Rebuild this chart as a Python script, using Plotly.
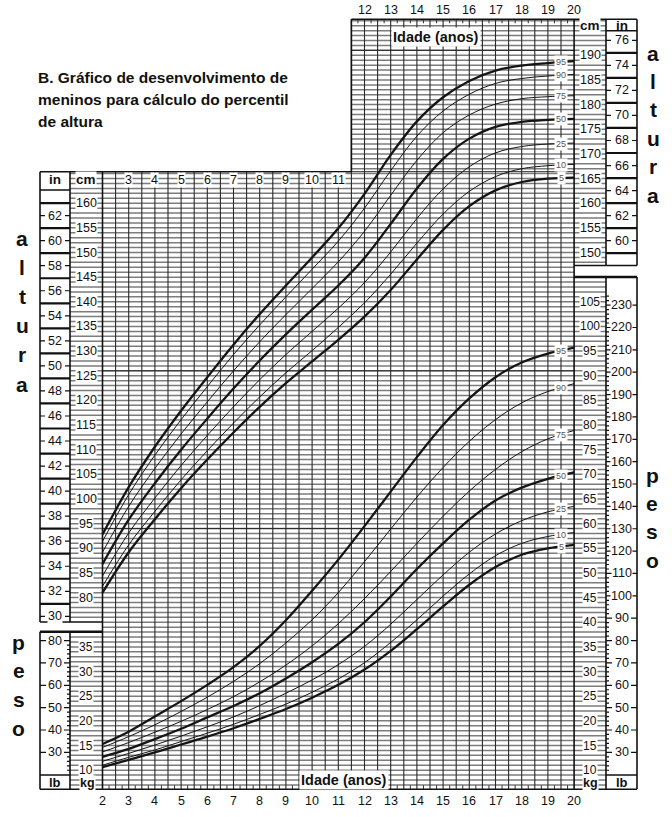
import numpy as np
import plotly.graph_objects as go

# ---------------- data ----------------
ages = list(range(2, 21))

stature_p5  = [81.0, 89.2, 95.9, 102.2, 108.0, 113.5, 118.7, 123.5, 127.9, 132.3, 137.0, 142.4, 148.6, 154.6, 159.4, 162.6, 164.3, 165.0, 165.2]
stature_p10 = [82.3, 90.7, 97.5, 103.9, 109.8, 115.4, 120.7, 125.6, 130.1, 134.8, 139.8, 145.6, 151.9, 157.8, 162.4, 165.4, 167.0, 167.6, 167.9]
stature_p25 = [84.4, 93.1, 100.2, 106.8, 112.9, 118.7, 124.2, 129.3, 134.0, 138.7, 143.9, 150.1, 156.9, 162.9, 167.4, 170.2, 171.5, 172.0, 172.2]
stature_p50 = [86.8, 95.8, 103.2, 110.0, 116.3, 122.4, 128.1, 133.4, 138.4, 143.3, 148.9, 155.8, 163.0, 169.0, 173.1, 175.5, 176.5, 176.9, 177.1]
stature_p75 = [89.2, 98.5, 106.2, 113.2, 119.7, 126.0, 131.9, 137.4, 142.7, 148.1, 154.3, 161.6, 168.7, 174.3, 177.9, 180.1, 181.2, 181.6, 181.8]
stature_p90 = [91.4, 100.9, 108.9, 116.1, 122.8, 129.3, 135.3, 141.0, 146.6, 152.3, 159.0, 166.6, 173.6, 178.7, 182.1, 184.3, 185.3, 185.8, 186.1]
stature_p95 = [92.8, 102.4, 110.6, 117.9, 124.7, 131.3, 137.5, 143.3, 149.0, 154.9, 161.9, 169.8, 176.6, 181.5, 184.8, 186.9, 187.9, 188.4, 188.8]

weight_p5  = [10.6, 12.1, 13.6, 15.2, 16.8, 18.5, 20.4, 22.4, 24.7, 27.3, 30.4, 34.2, 38.6, 43.2, 47.6, 51.2, 53.7, 55.0, 55.7]
weight_p10 = [11.0, 12.6, 14.1, 15.8, 17.5, 19.3, 21.3, 23.4, 25.8, 28.5, 31.8, 35.9, 40.5, 45.3, 49.8, 53.5, 56.0, 57.4, 58.2]
weight_p25 = [11.8, 13.4, 15.1, 16.9, 18.8, 20.8, 23.1, 25.6, 28.3, 31.4, 35.1, 39.6, 44.6, 49.6, 54.2, 57.9, 60.6, 62.4, 63.5]
weight_p50 = [12.7, 14.3, 16.3, 18.4, 20.7, 23.0, 25.6, 28.6, 31.9, 35.6, 40.0, 45.2, 50.8, 56.0, 60.8, 64.7, 67.3, 69.1, 70.4]
weight_p75 = [13.7, 15.6, 17.7, 19.9, 22.3, 24.9, 27.9, 31.3, 35.2, 39.7, 44.8, 50.3, 56.0, 61.5, 66.6, 71.0, 74.6, 77.2, 78.9]
weight_p90 = [14.6, 16.8, 19.2, 21.9, 24.8, 28.0, 31.6, 35.8, 40.5, 46.0, 52.3, 58.9, 65.4, 71.4, 76.7, 81.1, 84.5, 86.8, 88.4]
weight_p95 = [15.3, 17.8, 20.9, 24.0, 27.3, 30.9, 35.2, 40.4, 46.4, 52.7, 59.5, 66.5, 73.5, 80.0, 85.4, 89.7, 92.7, 94.5, 95.7]

percentiles = [5, 10, 25, 50, 75, 90, 95]
stature_series = [stature_p5, stature_p10, stature_p25, stature_p50, stature_p75, stature_p90, stature_p95]
weight_series = [weight_p5, weight_p10, weight_p25, weight_p50, weight_p75, weight_p90, weight_p95]

cm_left_ticks = list(range(80, 161, 5))
in_left_ticks = list(range(30, 63, 2))
cm_right_ticks = list(range(150, 191, 5))
in_right_ticks = list(range(60, 77, 2))
kg_left_ticks = list(range(10, 36, 5))
lb_left_ticks = list(range(30, 81, 10))
kg_right_ticks = list(range(10, 106, 5))
lb_right_ticks = list(range(30, 231, 10))
top_age_ticks = list(range(12, 21))
header_age_ticks = list(range(3, 12))
bottom_age_ticks = list(range(2, 21))

title_lines = ["B. Gráfico de desenvolvimento de", "meninos para cálculo do percentil", "de altura"]
x_title = "Idade (anos)"

# ---------------- layout calibration ----------------
W, H = 672, 817
AGE2_PX, PXY = 102.5, 26.2        # x pixel of age 2, pixels per year
CM80_PY, PXC = 597.6, 4.93        # y pixel of 80 cm, pixels per cm (=per kg)
KG_SHIFT = 35                     # weight axis offset relative to stature axis
LB_PER_KG = 2.20462
CM_PER_IN = 2.54
DARK_ROWS_CM = [191, 126, 94, 65]  # grid rows printed darker in the scanned original

def ax(px):
    return 2 + (px - AGE2_PX) / PXY

def cy(py):
    return 80 + (CM80_PY - py) / PXC

def pyc(c):
    return CM80_PY - (c - 80) * PXC

X_IN_L, X_CM_L, X_G_L = 40, 70, AGE2_PX
X_G_R = AGE2_PX + 18 * PXY
X_UP_L = AGE2_PX + 9.5 * PXY
X_CM_R, X_IN_R = 606, 637
Y_UP_TOP, Y_L_TOP, Y_L_HDR, Y_R_HDR = 19.3, 171.7, 190, 30.7
Y_R_ST_BOT, Y_R_WT_TOP = 265.5, 277
Y_L_ST_BOT, Y_L_WT_TOP = 622, 631.7
Y_LB_ROW, Y_BOT = 775, 789.3

def seg(x0, y0, x1, y1):
    return f"M{ax(x0):.4f},{cy(y0):.4f}L{ax(x1):.4f},{cy(y1):.4f}"

shapes = []

def add_path(segs, color, width, layer="below"):
    if segs:
        shapes.append(dict(type="path", path="".join(segs), xref="x", yref="y",
                           line=dict(color=color, width=width), layer=layer))

def h_extent(p):
    if p < Y_L_TOP:
        return X_UP_L, X_CM_R
    if p <= Y_R_ST_BOT:
        return X_CM_L, X_CM_R
    if p < Y_R_WT_TOP:
        return X_CM_L, X_G_R
    if p <= Y_L_ST_BOT:
        return X_CM_L, X_CM_R
    if p < Y_L_WT_TOP:
        return X_G_L, X_CM_R
    return X_CM_L, X_CM_R

# horizontal grid (1 unit)
gray = []
for c in range(int(cy(Y_BOT)) + 1, int(cy(Y_UP_TOP)) + 1):
    p = pyc(c)
    if p < Y_UP_TOP + 0.5 or p > Y_BOT:
        continue
    l, r = h_extent(p)
    gray.append(seg(l, p, r, p))
add_path(gray, "#7c7c7c", 1.5)

dark = []
for c in DARK_ROWS_CM:
    p = pyc(c)
    l = X_UP_L if p < Y_L_TOP else X_G_L
    dark.append(seg(l, p, X_G_R, p))
dark.append(seg(X_UP_L, Y_L_TOP, X_G_R, Y_L_TOP))
add_path(dark, "#262626", 1.0)

# vertical grid (half years)
vert = []
for a in np.arange(2.5, 20.0, 0.5):
    top = Y_UP_TOP if a >= 11.5 else Y_L_TOP
    px = AGE2_PX + (a - 2) * PXY
    vert.append(seg(px, top, px, Y_BOT))
add_path(vert, "#2a2a2a", 1.1)

# quarter-year ticks on top and bottom borders
qt = []
for a in np.arange(2.25, 20.0, 0.5):
    px = AGE2_PX + (a - 2) * PXY
    qt.append(seg(px, Y_BOT - 4, px, Y_BOT))
    if a > 11.5:
        qt.append(seg(px, Y_UP_TOP, px, Y_UP_TOP + 4))
add_path(qt, "#333333", 1.0)

# borders
bd = [
    seg(X_IN_L, Y_L_TOP, X_UP_L, Y_L_TOP),
    seg(X_UP_L, Y_UP_TOP, X_UP_L, Y_L_TOP),
    seg(X_UP_L, Y_UP_TOP, X_IN_R, Y_UP_TOP),
    seg(X_IN_L, Y_L_TOP, X_IN_L, Y_L_ST_BOT),
    seg(X_CM_L, Y_L_TOP, X_CM_L, Y_L_ST_BOT),
    seg(X_G_L, Y_L_TOP, X_G_L, Y_BOT),
    seg(X_IN_L, Y_L_ST_BOT, X_G_L, Y_L_ST_BOT),
    seg(X_IN_L, Y_L_HDR, X_CM_L, Y_L_HDR),
    seg(X_IN_L, Y_L_WT_TOP, X_IN_L, Y_BOT),
    seg(X_CM_L, Y_L_WT_TOP, X_CM_L, Y_BOT),
    seg(X_IN_L, Y_LB_ROW, X_CM_L, Y_LB_ROW),
    seg(X_IN_L, Y_BOT, X_IN_R, Y_BOT),
    seg(X_G_R, Y_UP_TOP, X_G_R, Y_BOT),
    seg(X_CM_R, Y_UP_TOP, X_CM_R, Y_R_ST_BOT),
    seg(X_IN_R, Y_UP_TOP, X_IN_R, Y_R_ST_BOT),
    seg(X_G_R, Y_R_ST_BOT, X_IN_R, Y_R_ST_BOT),
    seg(X_CM_R, Y_R_HDR, X_IN_R, Y_R_HDR),
    seg(X_CM_R, Y_R_WT_TOP, X_CM_R, Y_BOT),
    seg(X_IN_R, Y_R_WT_TOP, X_IN_R, Y_BOT),
    seg(X_CM_R, Y_LB_ROW, X_IN_R, Y_LB_ROW),
]
add_path(bd, "#111111", 1.6)
add_path([seg(X_IN_L, Y_L_WT_TOP, X_G_L, Y_L_WT_TOP), seg(X_G_R, Y_R_WT_TOP, X_IN_R, Y_R_WT_TOP)], "#111111", 2.6)

# inch columns: heavy lines at odd inches, short ticks at labelled even inches
heavy, ticks = [], []
for inch in range(31, 64, 2):
    p = pyc(inch * CM_PER_IN)
    if Y_L_HDR < p < Y_L_ST_BOT:
        heavy.append(seg(X_IN_L, p, X_CM_L, p))
for inch in range(59, 76, 2):
    p = pyc(inch * CM_PER_IN)
    if Y_R_HDR < p < Y_R_ST_BOT:
        heavy.append(seg(X_CM_R, p, X_IN_R, p))
add_path(heavy, "#111111", 2.2)
for inch in in_left_ticks:
    p = pyc(inch * CM_PER_IN)
    ticks += [seg(X_IN_L, p, X_IN_L + 5, p), seg(X_CM_L - 5, p, X_CM_L, p)]
for inch in in_right_ticks:
    p = pyc(inch * CM_PER_IN)
    ticks += [seg(X_CM_R, p, X_CM_R + 5, p), seg(X_IN_R - 5, p, X_IN_R, p)]
# pound columns
for lb in range(22, 82, 2):
    p = pyc(lb / LB_PER_KG + KG_SHIFT)
    if Y_L_WT_TOP < p < Y_LB_ROW:
        ln = 6 if lb % 10 == 0 else 3
        ticks.append(seg(X_CM_L - ln, p, X_CM_L, p))
        if lb % 10 == 0:
            ticks.append(seg(X_IN_L, p, X_IN_L + 6, p))
for lb in range(22, 236, 2):
    p = pyc(lb / LB_PER_KG + KG_SHIFT)
    if Y_R_WT_TOP < p < Y_LB_ROW:
        ln = 6 if lb % 10 == 0 else 3
        ticks.append(seg(X_CM_R, p, X_CM_R + ln, p))
        if lb % 10 == 0:
            ticks.append(seg(X_IN_R - 6, p, X_IN_R, p))
add_path(ticks, "#111111", 1.2)

# ---------------- figure ----------------
fig = go.Figure()
for p, s in zip(percentiles, stature_series):
    fig.add_trace(go.Scatter(x=ages, y=s, mode="lines", hoverinfo="skip", showlegend=False,
                             line=dict(color="#151515", width=2.3 if p in (5, 50, 95) else 1.0,
                                       shape="spline", smoothing=1.0)))
for p, s in zip(percentiles, weight_series):
    fig.add_trace(go.Scatter(x=ages, y=s, yaxis="y2", mode="lines", hoverinfo="skip", showlegend=False,
                             line=dict(color="#151515", width=2.3 if p in (5, 50, 95) else 1.0,
                                       shape="spline", smoothing=1.0)))

ann = []
NUM = "Liberation Sans, Arial, sans-serif"

def txt(x, y, t, size=12.5, yref="y", bold=False, bg=None, color="#111", xref="x", xanchor="center", pad=0):
    d = dict(x=x, y=y, xref=xref, yref=yref, text=f"<b>{t}</b>" if bold else t, showarrow=False,
             xanchor=xanchor, yanchor="middle", font=dict(family=NUM, size=size, color=color), borderpad=pad)
    if bg:
        d["bgcolor"] = bg
    ann.append(d)

# stature labels
for c in cm_left_ticks:
    txt(ax(86), c, str(c), bg="white")
for inch in in_left_ticks:
    txt(ax(55), inch * CM_PER_IN, str(inch), bg="white")
for c in cm_right_ticks:
    txt(ax(590), c, str(c), bg="white")
for inch in in_right_ticks:
    txt(ax(621.5), inch * CM_PER_IN, str(inch), bg="white")
# weight labels
for k in kg_left_ticks:
    txt(ax(86), k, str(k), yref="y2", bg="white", size=12)
for lb in lb_left_ticks:
    txt(ax(55), lb / LB_PER_KG, str(lb), yref="y2", bg="white")
for k in kg_right_ticks:
    txt(ax(590), k, str(k), yref="y2", bg="white", size=12)
for lb in lb_right_ticks:
    txt(ax(621.5), lb / LB_PER_KG, str(lb), yref="y2", bg="white")

# headers
txt(ax(55), cy(179), "in", size=13.5, bold=True)
txt(ax(86), cy(179), "cm", size=13.5, bold=True, bg="white")
txt(ax(590), cy(25), "cm", size=13.5, bold=True, bg="white")
txt(ax(621.5), cy(25), "in", size=13.5, bold=True)
txt(ax(55), cy(782.5), "lb", size=13, bold=True)
txt(ax(87), cy(783), "kg", size=12.5, bold=True, bg="white")
txt(ax(590), cy(783), "kg", size=12.5, bold=True, bg="white")
txt(ax(621.5), cy(782.5), "lb", size=13, bold=True)

# age labels
for a in header_age_ticks:
    txt(a, cy(180), str(a), bg="white")
for a in top_age_ticks:
    txt(a, cy(10), str(a))
for a in bottom_age_ticks:
    txt(a, cy(800.5), str(a))
txt(ax(436), cy(36.5), x_title, size=14.5, bold=True, bg="white", pad=1)
txt(ax(344), cy(779.5), x_title, size=14.5, bold=True, bg="white", pad=1)

# percentile labels at the right end of curves
for p, s in zip(percentiles, stature_series):
    txt(19.5, float(np.interp(19.5, ages, s)), str(p), size=9, color="#555", bg="white", pad=1)
for p, s in zip(percentiles, weight_series):
    txt(19.5, float(np.interp(19.5, ages, s)), str(p), size=9, color="#555", bg="white", pad=1, yref="y2")

# title
for i, line in enumerate(title_lines):
    txt(ax(37), cy(77 + 22.2 * i), line, size=15.5, bold=True, xanchor="left")

# side words
for i, ch in enumerate("altura"):
    txt(ax(22), cy(238 + 29.2 * i), ch, size=21, bold=True)
    txt(ax(653), cy(53 + 28.4 * i), ch, size=21, bold=True)
for i, ch in enumerate("peso"):
    txt(ax(18.5), cy(642 + 28.8 * i), ch, size=21, bold=True)
    txt(ax(652), cy(475 + 28.4 * i), ch, size=21, bold=True)

x_range = [ax(0), ax(W)]
y_range = [cy(H), cy(0)]
fig.update_layout(
    width=W, height=H, margin=dict(l=0, r=0, t=0, b=0),
    paper_bgcolor="white", plot_bgcolor="white",
    xaxis=dict(range=x_range, visible=False, fixedrange=True),
    yaxis=dict(range=y_range, visible=False, fixedrange=True),
    yaxis2=dict(range=[y_range[0] - KG_SHIFT, y_range[1] - KG_SHIFT], overlaying="y", visible=False, fixedrange=True),
    shapes=shapes, annotations=ann, showlegend=False,
)

fig.write_html("out.html", config={"displayModeBar": False, "staticPlot": True},
               post_script="document.body.style.margin='0';document.body.style.overflow='hidden';")
